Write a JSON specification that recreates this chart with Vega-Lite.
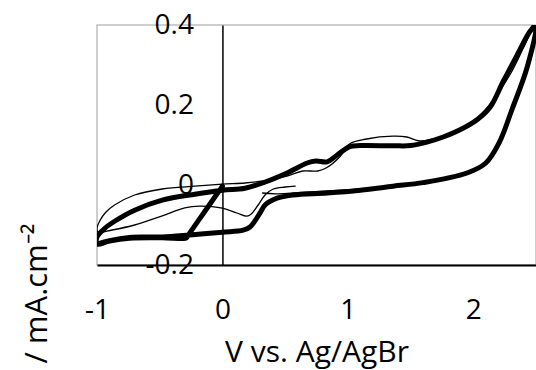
{
  "$schema": "https://vega.github.io/schema/vega-lite/v6.json",
  "width": 439,
  "height": 240,
  "autosize": {"type": "none"},
  "padding": {"left": 97, "top": 25, "right": 0, "bottom": 105},
  "background": "white",
  "config": {
    "font": "Open Sans",
    "view": {"stroke": "#bfbfbf", "strokeWidth": 1.5},
    "axis": {"grid": false, "ticks": false, "labelColor": "black", "titleColor": "black", "titleFontWeight": "normal", "domainColor": "black"}
  },
  "data": {
    "values": [
      {"s": "thick", "i": 0, "x": 0.0, "y": -0.003},
      {"s": "thick", "i": 0.3, "x": -0.02, "y": -0.012},
      {"s": "thick", "i": 0.5, "x": -0.145, "y": -0.068},
      {"s": "thick", "i": 0.7, "x": -0.27, "y": -0.124},
      {"s": "thick", "i": 1, "x": -0.29, "y": -0.133},
      {"s": "thick", "i": 1.5, "x": -0.32, "y": -0.134},
      {"s": "thick", "i": 2, "x": -0.48, "y": -0.132},
      {"s": "thick", "i": 3, "x": -0.74, "y": -0.133},
      {"s": "thick", "i": 4, "x": -0.9, "y": -0.14},
      {"s": "thick", "i": 5, "x": -1.0, "y": -0.148},
      {"s": "thick", "i": 6, "x": -1.0, "y": -0.13},
      {"s": "thick", "i": 7, "x": -0.935, "y": -0.1075},
      {"s": "thick", "i": 8, "x": -0.856, "y": -0.09},
      {"s": "thick", "i": 9, "x": -0.7, "y": -0.063},
      {"s": "thick", "i": 10, "x": -0.48, "y": -0.038},
      {"s": "thick", "i": 11, "x": -0.22, "y": -0.023},
      {"s": "thick", "i": 12, "x": 0.0, "y": -0.013},
      {"s": "thick", "i": 13, "x": 0.18, "y": -0.008},
      {"s": "thick", "i": 14, "x": 0.32, "y": 0.005},
      {"s": "thick", "i": 15, "x": 0.515, "y": 0.03},
      {"s": "thick", "i": 16, "x": 0.675, "y": 0.055},
      {"s": "thick", "i": 17, "x": 0.745, "y": 0.06},
      {"s": "thick", "i": 18, "x": 0.835, "y": 0.058},
      {"s": "thick", "i": 19, "x": 0.915, "y": 0.075},
      {"s": "thick", "i": 20, "x": 1.015, "y": 0.096},
      {"s": "thick", "i": 21, "x": 1.1, "y": 0.0985},
      {"s": "thick", "i": 22, "x": 1.36, "y": 0.098},
      {"s": "thick", "i": 23, "x": 1.5, "y": 0.0985},
      {"s": "thick", "i": 24, "x": 1.63, "y": 0.107},
      {"s": "thick", "i": 25, "x": 1.76, "y": 0.12},
      {"s": "thick", "i": 26, "x": 1.895, "y": 0.138},
      {"s": "thick", "i": 27, "x": 2.03, "y": 0.163},
      {"s": "thick", "i": 28, "x": 2.135, "y": 0.195},
      {"s": "thick", "i": 29, "x": 2.24, "y": 0.26},
      {"s": "thick", "i": 30, "x": 2.35, "y": 0.325},
      {"s": "thick", "i": 31, "x": 2.45, "y": 0.383},
      {"s": "thick", "i": 32, "x": 2.5, "y": 0.4},
      {"s": "thick", "i": 33, "x": 2.43, "y": 0.295},
      {"s": "thick", "i": 34, "x": 2.31, "y": 0.19},
      {"s": "thick", "i": 35, "x": 2.205, "y": 0.105},
      {"s": "thick", "i": 36, "x": 2.1, "y": 0.055},
      {"s": "thick", "i": 37, "x": 1.95, "y": 0.03},
      {"s": "thick", "i": 38, "x": 1.6, "y": 0.006},
      {"s": "thick", "i": 39, "x": 1.36, "y": -0.003},
      {"s": "thick", "i": 40, "x": 1.1, "y": -0.013},
      {"s": "thick", "i": 41, "x": 0.835, "y": -0.02},
      {"s": "thick", "i": 42, "x": 0.565, "y": -0.025},
      {"s": "thick", "i": 43, "x": 0.435, "y": -0.033},
      {"s": "thick", "i": 44, "x": 0.34, "y": -0.05},
      {"s": "thick", "i": 45, "x": 0.3, "y": -0.07},
      {"s": "thick", "i": 46, "x": 0.22, "y": -0.105},
      {"s": "thick", "i": 47, "x": 0.165, "y": -0.113},
      {"s": "thick", "i": 48, "x": 0.0, "y": -0.118},
      {"s": "thick", "i": 49, "x": -0.26, "y": -0.125},
      {"s": "thick", "i": 50, "x": -0.48, "y": -0.13},
      {"s": "thick", "i": 51, "x": -0.74, "y": -0.131},
      {"s": "thick", "i": 52, "x": -0.9, "y": -0.139},
      {"s": "thick", "i": 53, "x": -1.0, "y": -0.148},
      {"s": "thin", "i": 0, "x": 0.58, "y": -0.003},
      {"s": "thin", "i": 1, "x": 0.5, "y": -0.005},
      {"s": "thin", "i": 2, "x": 0.405, "y": -0.01},
      {"s": "thin", "i": 3, "x": 0.34, "y": -0.025},
      {"s": "thin", "i": 4, "x": 0.285, "y": -0.05},
      {"s": "thin", "i": 5, "x": 0.23, "y": -0.0725},
      {"s": "thin", "i": 6, "x": 0.195, "y": -0.078},
      {"s": "thin", "i": 7, "x": 0.115, "y": -0.07},
      {"s": "thin", "i": 8, "x": 0.0, "y": -0.058},
      {"s": "thin", "i": 9, "x": -0.18, "y": -0.053},
      {"s": "thin", "i": 10, "x": -0.3, "y": -0.057},
      {"s": "thin", "i": 11, "x": -0.48, "y": -0.077},
      {"s": "thin", "i": 12, "x": -0.7, "y": -0.1},
      {"s": "thin", "i": 13, "x": -0.88, "y": -0.1125},
      {"s": "thin", "i": 14, "x": -0.99, "y": -0.118},
      {"s": "thin", "i": 15, "x": -1.0, "y": -0.108},
      {"s": "thin", "i": 16, "x": -0.975, "y": -0.088},
      {"s": "thin", "i": 17, "x": -0.93, "y": -0.068},
      {"s": "thin", "i": 18, "x": -0.86, "y": -0.05},
      {"s": "thin", "i": 19, "x": -0.7, "y": -0.025},
      {"s": "thin", "i": 20, "x": -0.48, "y": -0.01},
      {"s": "thin", "i": 21, "x": -0.22, "y": -0.003},
      {"s": "thin", "i": 22, "x": 0.0, "y": 0.002},
      {"s": "thin", "i": 23, "x": 0.18, "y": 0.005},
      {"s": "thin", "i": 24, "x": 0.325, "y": 0.01},
      {"s": "thin", "i": 25, "x": 0.515, "y": 0.0225},
      {"s": "thin", "i": 26, "x": 0.64, "y": 0.035},
      {"s": "thin", "i": 27, "x": 0.76, "y": 0.035},
      {"s": "thin", "i": 28, "x": 0.83, "y": 0.043},
      {"s": "thin", "i": 29, "x": 0.94, "y": 0.072},
      {"s": "thin", "i": 30, "x": 1.015, "y": 0.103},
      {"s": "thin", "i": 31, "x": 1.15, "y": 0.115},
      {"s": "thin", "i": 32, "x": 1.36, "y": 0.122},
      {"s": "thin", "i": 33, "x": 1.47, "y": 0.12},
      {"s": "thin", "i": 34, "x": 1.575, "y": 0.11},
      {"s": "thin", "i": 35, "x": 1.76, "y": 0.122},
      {"s": "thin", "i": 36, "x": 1.895, "y": 0.14},
      {"s": "thin", "i": 37, "x": 2.03, "y": 0.168},
      {"s": "thin", "i": 38, "x": 2.16, "y": 0.213},
      {"s": "thin", "i": 39, "x": 2.3, "y": 0.28},
      {"s": "thin", "i": 40, "x": 2.4, "y": 0.343},
      {"s": "thin", "i": 41, "x": 2.49, "y": 0.4},
      {"s": "thin", "i": 42, "x": 2.43, "y": 0.295},
      {"s": "thin", "i": 43, "x": 2.31, "y": 0.19},
      {"s": "thin", "i": 44, "x": 2.205, "y": 0.105},
      {"s": "thin", "i": 45, "x": 2.1, "y": 0.055},
      {"s": "thin", "i": 46, "x": 1.95, "y": 0.03},
      {"s": "thin", "i": 47, "x": 1.6, "y": 0.006},
      {"s": "thin", "i": 48, "x": 1.36, "y": -0.002},
      {"s": "thin", "i": 49, "x": 1.1, "y": -0.01},
      {"s": "thin", "i": 50, "x": 0.835, "y": -0.015},
      {"s": "thin", "i": 51, "x": 0.565, "y": -0.02},
      {"s": "thin", "i": 52, "x": 0.42, "y": -0.022},
      {"s": "thin", "i": 53, "x": 0.32, "y": -0.02}
    ]
  },
  "mark": {"type": "line", "color": "black", "clip": true, "strokeJoin": "round", "strokeCap": "round", "interpolate": "catmull-rom"},
  "encoding": {
    "x": {
      "field": "x", "type": "quantitative",
      "scale": {"domain": [-1, 2.5], "nice": false, "zero": false},
      "axis": {
        "values": [-1, 0, 1, 2],
        "labelExpr": "replace(datum.label, '\u2212', '-')",
        "labelFontSize": 28, "labelPadding": 31, "labelFlush": false,
        "domainWidth": 2,
        "title": "V vs. Ag/AgBr", "titleFontSize": 30,
        "titleBaseline": "alphabetic", "titleY": 96
      }
    },
    "y": {
      "field": "y", "type": "quantitative",
      "scale": {"domain": [-0.2, 0.4], "nice": false, "zero": false},
      "axis": {
        "values": [-0.2, 0, 0.2, 0.4],
        "format": "~g",
        "labelExpr": "replace(datum.label, '\u2212', '-')",
        "labelFontSize": 28, "labelPadding": 29, "labelFlush": false,
        "offset": -125.43, "domainWidth": 1.5,
        "title": "/ mA.cm⁻²", "titleFontSize": 31, "titleAngle": -90,
        "titleBaseline": "alphabetic", "titleAlign": "center",
        "titleX": -176, "titleY": 268
      }
    },
    "detail": {"field": "s", "type": "nominal"},
    "order": {"field": "i", "type": "quantitative"},
    "strokeWidth": {"field": "s", "type": "nominal", "scale": {"domain": ["thick", "thin"], "range": [5, 1.3]}, "legend": null}
  }
}
